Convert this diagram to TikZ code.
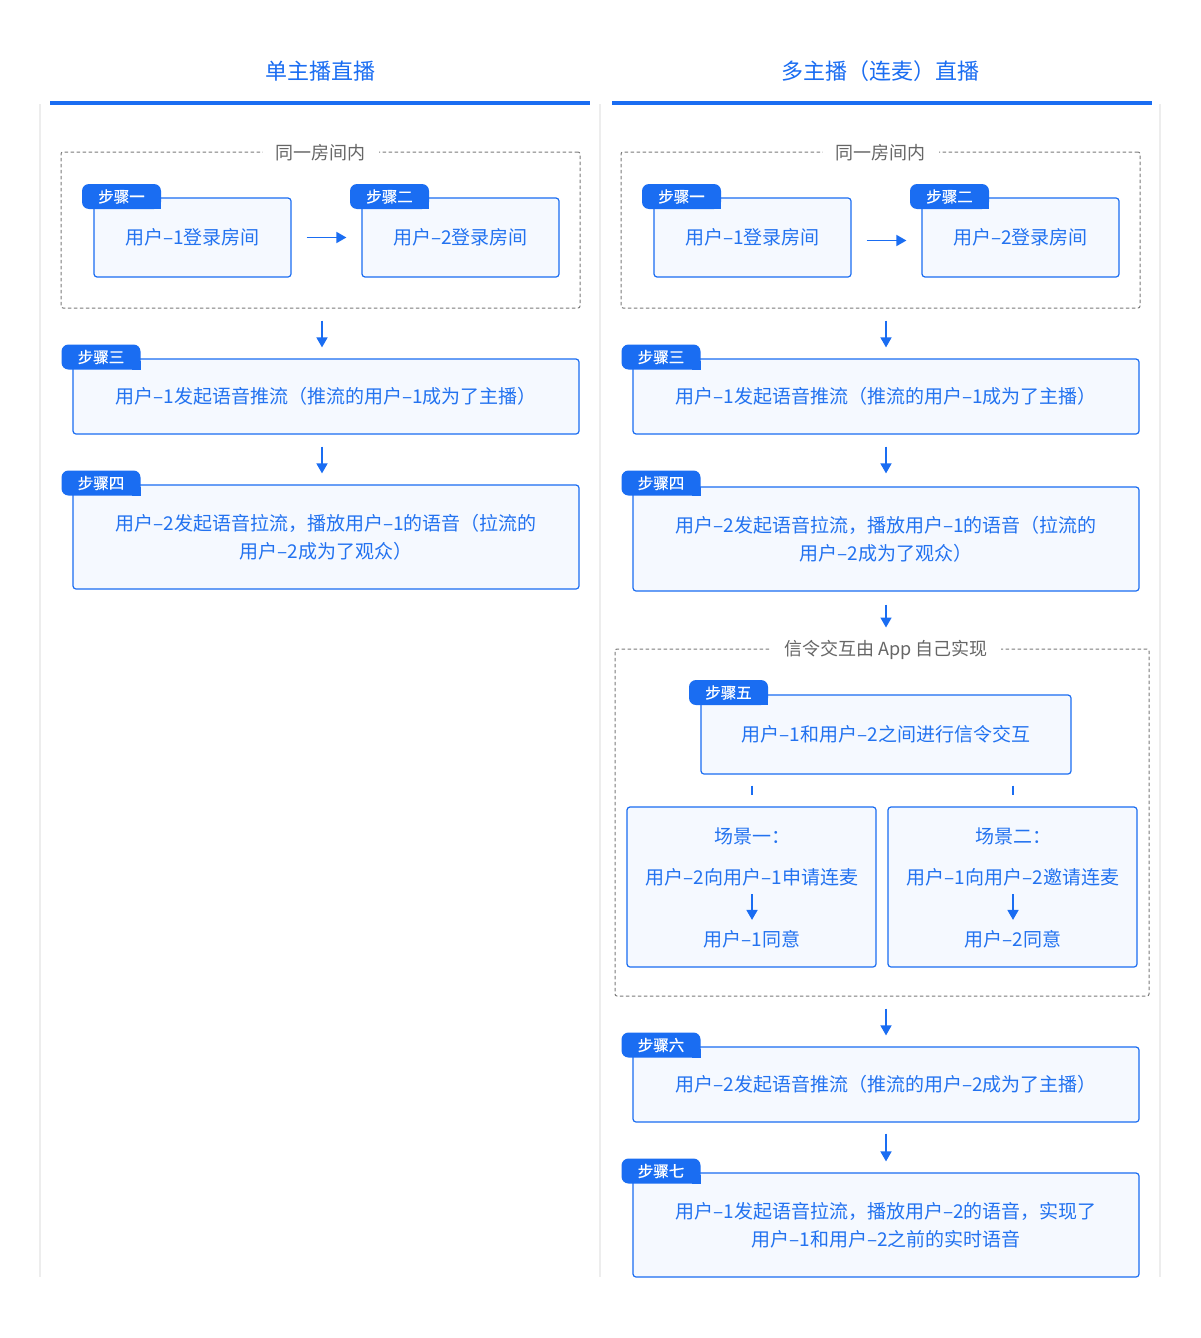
\documentclass[tikz,border=0pt]{standalone}
\usepackage{fontspec}
\setmainfont{Noto Sans CJK SC}
\newfontfamily\badgefont[FakeBold=0.6]{Noto Sans CJK SC}
\usetikzlibrary{arrows.meta}
\definecolor{blu}{HTML}{1A6DF2}
\definecolor{txtb}{HTML}{2272F0}
\definecolor{fillb}{HTML}{F5F9FF}
\definecolor{dgray}{HTML}{7A7A7A}
\definecolor{lgray}{HTML}{666666}
\definecolor{colline}{HTML}{EDEDED}
\tikzset{
  stepbox/.style={draw=blu, fill=fillb, line width=1.2pt, rounded corners=3pt, text=txtb,
    font=\fontsize{19}{28}\selectfont, align=center, inner sep=0pt},
  badge/.style={fill=blu, rounded corners=7pt, text=white, font=\badgefont\fontsize{15.5}{18}\selectfont,
    inner sep=0pt, minimum width=79pt, minimum height=25pt},
  grpbox/.style={draw=dgray, dashed, dash pattern=on 3.5pt off 2.5pt, line width=1pt, rounded corners=2pt, inner sep=0pt},
  grplabel/.style={fill=white, text=lgray, font=\fontsize{18}{20}\selectfont, inner xsep=13pt, inner ysep=2pt},
  inlabel/.style={text=txtb, font=\fontsize{19}{22}\selectfont, inner sep=0pt},
  flow/.style={draw=blu, line width=1.6pt, -{Triangle[length=10pt,width=11pt]}},
  tick/.style={draw=blu, line width=1.6pt},
  coltitle/.style={text=blu, font=\fontsize{22}{24}\selectfont},
  bar/.style={draw=blu, line width=4pt},
  colsep/.style={draw=colline, line width=1.5pt}
}
\newcommand{\badgecorner}[1]{\fill[blu] (#1.south east) rectangle ++(-9,-9);}
\begin{document}
\begin{tikzpicture}[x=1pt,y=-1pt]
\useasboundingbox (0,0) rectangle (1200,1338);
\fill[white] (0,0) rectangle (1200,1338);

% column separators
\draw[colsep] (40,104) -- (40,1277);
\draw[colsep] (600,104) -- (600,1277);
\draw[colsep] (1160,104) -- (1160,1277);

% titles and bars
\node[coltitle] (t1) at (320,71) {单主播直播};
\node[coltitle] (t2) at (880,71) {多主播（连麦）直播};
\draw[bar] (50,102.5) -- (590,102.5);
\draw[bar] (612,102.5) -- (1152,102.5);

% ================= LEFT COLUMN =================
\node[grpbox, minimum width=519pt, minimum height=156pt] (Lg) at (320.5,230) {};
\node[grplabel] (Lgl) at (320.5,153) {同一房间内};

\node[stepbox, minimum width=197pt, minimum height=79pt] (L1) at (192.5,237.5) {用户–1登录房间};
\node[badge] (L1b) at (121.5,196.5) {步骤一};
\badgecorner{L1b}
\node[stepbox, minimum width=197pt, minimum height=79pt] (L2) at (460.5,237.5) {用户–2登录房间};
\node[badge] (L2b) at (389.5,196.5) {步骤二};
\badgecorner{L2b}
\draw[flow, shorten <=15pt, shorten >=15pt] (L1.east) -- (L2.west);

\node[stepbox, minimum width=506pt, minimum height=75pt] (L3) at (326,396.5) {用户–1发起语音推流（推流的用户–1成为了主播）};
\node[badge] (L3b) at (101,357) {步骤三};
\badgecorner{L3b}
\draw[flow, shorten <=12pt, shorten >=11pt] (Lg.south -| 322,0) -- (L3.north -| 322,0);

\node[stepbox, minimum width=506pt, minimum height=104pt] (L4) at (326,537) {用户–2发起语音拉流，播放用户–1的语音（拉流的\\用户–2成为了观众）};
\node[badge] (L4b) at (101,483) {步骤四};
\badgecorner{L4b}
\draw[flow, shorten <=12pt, shorten >=11pt] (L3.south -| 322,0) -- (L4.north -| 322,0);

% ================= RIGHT COLUMN =================
\node[grpbox, minimum width=519pt, minimum height=156pt] (Rg) at (880.5,230) {};
\node[grplabel] (Rgl) at (880.5,153) {同一房间内};

\node[stepbox, minimum width=197pt, minimum height=79pt] (R1) at (752.5,237.5) {用户–1登录房间};
\node[badge] (R1b) at (681.5,196.5) {步骤一};
\badgecorner{R1b}
\node[stepbox, minimum width=197pt, minimum height=79pt] (R2) at (1020.5,237.5) {用户–2登录房间};
\node[badge] (R2b) at (949.5,196.5) {步骤二};
\badgecorner{R2b}
\draw[flow, shorten <=15pt, shorten >=15pt] ([yshift=-3pt]R1.east) -- ([yshift=-3pt]R2.west);

\node[stepbox, minimum width=506pt, minimum height=75pt] (R3) at (886,396.5) {用户–1发起语音推流（推流的用户–1成为了主播）};
\node[badge] (R3b) at (661,357) {步骤三};
\badgecorner{R3b}
\draw[flow, shorten <=12pt, shorten >=11pt] (Rg.south -| 886,0) -- (R3.north -| 886,0);

\node[stepbox, minimum width=506pt, minimum height=104pt] (R4) at (886,539) {用户–2发起语音拉流，播放用户–1的语音（拉流的\\用户–2成为了观众）};
\node[badge] (R4b) at (661,483) {步骤四};
\badgecorner{R4b}
\draw[flow, shorten <=12pt, shorten >=11pt] (R3.south -| 886,0) -- ([yshift=2pt]R4.north -| 886,0);

% signalling group
\node[grpbox, minimum width=534pt, minimum height=347pt] (Sg) at (882,822.5) {};
\node[grplabel] (Sgl) at (886,650) {信令交互由 App 自己实现};
\draw[flow, shorten <=11pt, shorten >=21pt] ([yshift=-2pt]R4.south -| 886,0) -- (Sg.north -| 886,0);

\node[stepbox, minimum width=370pt, minimum height=79pt] (R5) at (886,734.5) {用户–1和用户–2之间进行信令交互};
\node[badge] (R5b) at (728.5,692.5) {步骤五};
\badgecorner{R5b}

\node[stepbox, minimum width=249pt, minimum height=160pt] (C1) at (751.5,887) {};
\node[stepbox, minimum width=249pt, minimum height=160pt] (C2) at (1012.5,887) {};
\draw[tick, shorten <=11pt, shorten >=11pt] (R5.south -| 752,0) -- (C1.north -| 752,0);
\draw[tick, shorten <=11pt, shorten >=11pt] (R5.south -| 1013,0) -- (C2.north -| 1013,0);

\node[inlabel] (C1a) at (752,836) {场景一：};
\node[inlabel] (C1b) at (752,877) {用户–2向用户–1申请连麦};
\node[inlabel] (C1c) at (752,939) {用户–1同意};
\draw[flow, shorten <=8pt, shorten >=10pt] (C1b.south -| 752,0) -- (C1c.north -| 752,0);

\node[inlabel] (C2a) at (1013,836) {场景二：};
\node[inlabel] (C2b) at (1013,877) {用户–1向用户–2邀请连麦};
\node[inlabel] (C2c) at (1013,939) {用户–2同意};
\draw[flow, shorten <=8pt, shorten >=10pt] (C2b.south -| 1013,0) -- (C2c.north -| 1013,0);

\node[stepbox, minimum width=506pt, minimum height=75pt] (R6) at (886,1084.5) {用户–2发起语音推流（推流的用户–2成为了主播）};
\node[badge] (R6b) at (661,1045) {步骤六};
\badgecorner{R6b}
\draw[flow, shorten <=12pt, shorten >=11pt] (Sg.south -| 886,0) -- (R6.north -| 886,0);

\node[stepbox, minimum width=506pt, minimum height=104pt] (R7) at (886,1225) {用户–1发起语音拉流，播放用户–2的语音，实现了\\用户–1和用户–2之前的实时语音};
\node[badge] (R7b) at (661,1171) {步骤七};
\badgecorner{R7b}
\draw[flow, shorten <=11pt, shorten >=11pt] (R6.south -| 886,0) -- (R7.north -| 886,0);

\end{tikzpicture}
\end{document}
